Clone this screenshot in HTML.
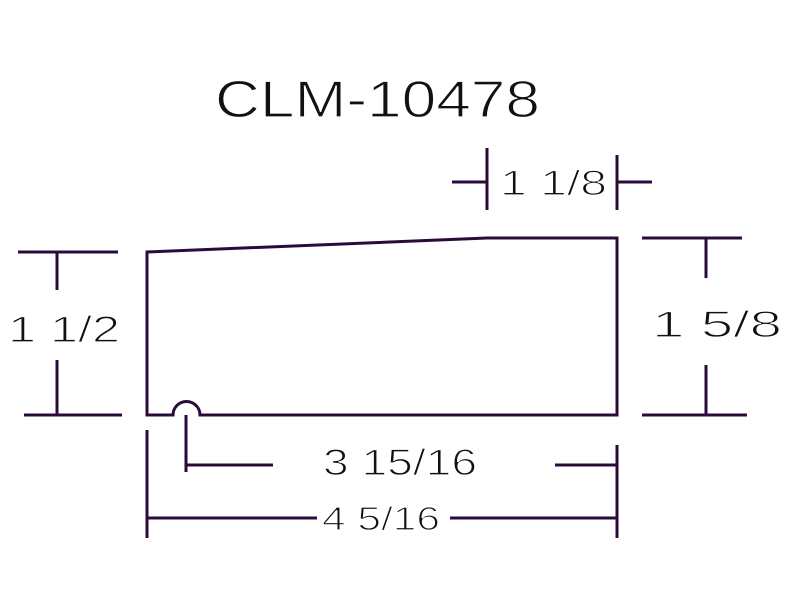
<!DOCTYPE html>
<html><head><style>html,body{margin:0;padding:0;background:#fff;}svg{display:block}</style></head>
<body>
<svg width="800" height="600" viewBox="0 0 800 600" xmlns="http://www.w3.org/2000/svg">
<g stroke="#2a0a3a" stroke-width="3" fill="none">
<path d="M147,252 L487,238 L617,238 L617,415 L200,415 A13,13 0 0 0 173,415 L147,415 Z"/>
<path d="M18,252 H118 M24,415 H122 M57,252 V290 M57,360 V415"/>
<path d="M642,238 H742 M642,415 H747 M706,238 V278 M706,365 V415"/>
<path d="M487,148 V210 M617,155 V210 M452,182 H487 M617,182 H652"/>
<path d="M186,415 V472 M186,465 H273 M555,465 H617 M617,445 V538"/>
<path d="M147,430 V538 M147,518 H317 M450,518 H617"/>
</g>
<g font-family="Liberation Sans, sans-serif" fill="#111" stroke="#fff" stroke-width="1.2" paint-order="fill">
<text x="215" y="117" font-size="52" textLength="325" lengthAdjust="spacingAndGlyphs">CLM-10478</text>
<text x="8" y="342" font-size="37" textLength="112" lengthAdjust="spacingAndGlyphs">1 1/2</text>
<text x="652" y="337" font-size="37" textLength="130" lengthAdjust="spacingAndGlyphs">1 5/8</text>
<text x="500" y="195" font-size="35" textLength="107" lengthAdjust="spacingAndGlyphs">1 1/8</text>
<text x="323" y="475" font-size="37" textLength="154" lengthAdjust="spacingAndGlyphs">3 15/16</text>
<text x="322" y="530" font-size="33" textLength="118" lengthAdjust="spacingAndGlyphs">4 5/16</text>
</g>
</svg>
</body></html>
